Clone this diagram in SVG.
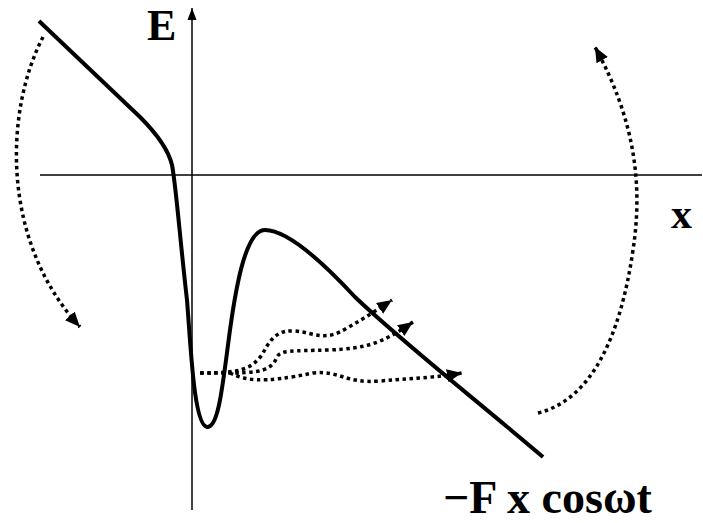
<svg xmlns="http://www.w3.org/2000/svg" width="703" height="523" viewBox="0 0 703 523">
<style>
.axis{fill:none;stroke:#000;stroke-width:1.5}
.curve{fill:none;stroke:#000;stroke-width:4;stroke-linejoin:round}
.dot{fill:none;stroke:#000;stroke-width:3.5;stroke-dasharray:3.5 3.5}
.lbl{font-family:"Liberation Serif","Times New Roman",serif;font-weight:bold;fill:#000}
</style>
<defs>
<marker id="ah" markerUnits="userSpaceOnUse" markerWidth="16" markerHeight="14" refX="15" refY="6.5" orient="auto">
<path d="M0,0 L15,6.5 L0,13 z" fill="#000"/>
</marker>
<marker id="axa" markerUnits="userSpaceOnUse" markerWidth="10" markerHeight="12" refX="5" refY="0" orient="0">
<path d="M0.5,12 L5,0 L9.5,12 z" fill="#000"/>
</marker>
</defs>
<g id="axes">
<line class="axis" x1="192" y1="510" x2="192" y2="8" marker-end="url(#axa)"/>
<line class="axis" x1="40" y1="175" x2="702" y2="175"/>
</g>
<g id="potential">
<path class="curve" d="M39,21 L140,117 C155,132 168,148 172,165 C176,185 180,240 187,300 C191,350 194,425 207,427 C218,428 222,390 228,345 C235,290 245,230 265,230 C290,230 330,270 355,297 C400,340 470,395 543,457"/>
</g>
<g id="connectors">
<path class="dot" d="M43,37 C5,110 0,240 80,327" marker-end="url(#ah)"/>
<path class="dot" d="M538,413 C590,400 620,340 633,250 C643,185 635,120 595,47" marker-end="url(#ah)"/>
<path class="dot" d="M200,373 C240,373 250,370 262,355 C272,335 280,330 295,331 C315,333 325,342 347,328 C365,318 380,308 392,300" marker-end="url(#ah)"/>
<path class="dot" d="M200,373 C250,373 270,375 277,357 C281,350 290,351 330,350 C365,348 380,345 413,322" marker-end="url(#ah)"/>
<path class="dot" d="M230,373 C245,380 260,384 313,373 C340,370 345,384 380,381 C420,378 440,377 462,373" marker-end="url(#ah)"/>
</g>
<g id="labels">
<text class="lbl" x="147" y="40" font-size="44">E</text>
<text class="lbl" x="671" y="228" font-size="42">x</text>
<text class="lbl" x="443" y="513" font-size="46">−F x cosωt</text>
</g>
</svg>
